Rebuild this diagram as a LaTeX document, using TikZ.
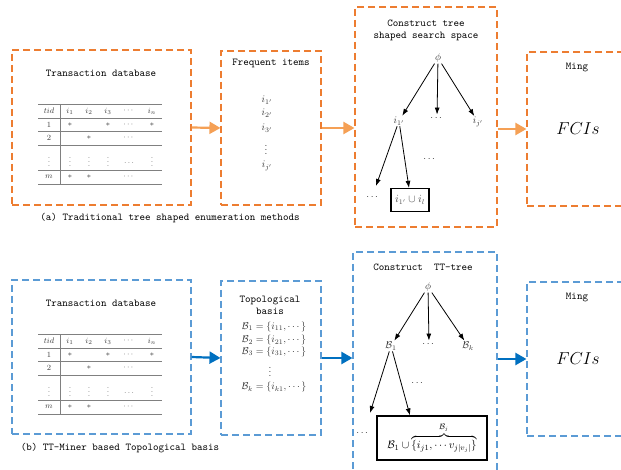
\documentclass[tikz,border=0pt]{standalone}
\usepackage{amsmath}
\usepackage{amsfonts}
\usetikzlibrary{arrows.meta}
\definecolor{dashorange}{RGB}{237,125,49}
\definecolor{floworange}{RGB}{245,160,85}
\definecolor{dashblue}{RGB}{91,155,213}
\definecolor{flowblue}{RGB}{0,112,192}

\tikzset{
    ttlabel/.style={font=\fontsize{10.5}{12}\selectfont\ttfamily},
    mathlabel/.style={font=\fontsize{10}{11}\selectfont, text=black!80, inner sep=1pt},
    cell/.style={font=\fontsize{8.5}{9}\selectfont, text=black!75, inner sep=0pt},
    stagebox/.style={draw, dash pattern=on 7pt off 4pt, line width=1.1pt, inner sep=0pt},
    flow/.style={line width=2.2pt, -{Triangle[length=11pt,width=12pt]}},
    treearrow/.style={-{Latex[length=7pt,width=5pt]}, line width=0.8pt},
    rule/.style={gray, line width=0.6pt},
}

\begin{document}
\begin{tikzpicture}[x=1pt, y=-1pt]
    \clip (0,0) rectangle (621,470);
    \fill[white] (0,0) rectangle (621,470);

    % stage boxes, top row (a)
    \node[stagebox, draw=dashorange, minimum width=179pt, minimum height=155pt] (dbA) at (101.5,127.5) {};
    \node[stagebox, draw=dashorange, minimum width=100pt, minimum height=154pt] (freqA) at (271,128) {};
    \node[stagebox, draw=dashorange, minimum width=142pt, minimum height=220pt] (treeA) at (426,117) {};
    \node[stagebox, draw=dashorange, minimum width=120pt, minimum height=154pt] (mingA) at (587,129) {};

    % stage boxes, bottom row (b)
    \node[stagebox, draw=dashblue, minimum width=179pt, minimum height=154pt] (dbB) at (101.5,357) {};
    \node[stagebox, draw=dashblue, minimum width=100pt, minimum height=154pt] (topoB) at (271,358) {};
    \node[stagebox, draw=dashblue, minimum width=144pt, minimum height=228pt] (treeB) at (425,366) {};
    \node[stagebox, draw=dashblue, minimum width=120pt, minimum height=154pt] (mingB) at (587,359) {};

    % transaction database, same in both rows
    \foreach \dy/\r in {0/A,230/B} {
    \begin{scope}[shift={(0,\dy)}]
        \node[ttlabel] (dbtitle\r) at (101,73) {Transaction database};
        \draw[rule, line width=0.8pt] (38,104) -- (162,104);
        \foreach \ry in {118,131,145,170,184}
            \draw[rule] (38,\ry) -- (162,\ry);
        \draw[rule] (60,104) -- (60,184);
        \foreach \cx/\txt in {49/tid,70/i_1,89/i_2,108/i_3,129/\cdots,152/i_n}
            \node[cell] (hd\r\cx) at (\cx,111) {$\txt$};
        \foreach \cx/\txt in {49/1,70/*,108/*,129/\cdots,152/*}
            \node[cell] (ra\r\cx) at (\cx,124.5) {$\txt$};
        \foreach \cx/\txt in {49/2,89/*,129/\cdots}
            \node[cell] (rb\r\cx) at (\cx,138) {$\txt$};
        \foreach \cx in {49,70,89,108,152}
            \node[cell] (rv\r\cx) at (\cx,159) {$\vdots$};
        \node[cell] (rd\r) at (129,163) {$\ldots$};
        \foreach \cx/\txt in {49/m,70/*,89/*,129/\cdots}
            \node[cell] (rm\r\cx) at (\cx,177) {$\txt$};
    \end{scope}
    }

    % frequent items
    \node[ttlabel] (freqtitle) at (271,63) {Frequent items};
    \node[mathlabel] (fi1) at (267,100) {$i_{1'}$};
    \node[mathlabel] (fi2) at (267,113) {$i_{2'}$};
    \node[mathlabel] (fi3) at (267,128) {$i_{3'}$};
    \node[mathlabel] (fiv) at (266,147) {$\vdots$};
    \node[mathlabel] (fij) at (267,166) {$i_{j'}$};

    % tree shaped search space
    \node[ttlabel, align=center] (treetitleA) at (426,30) {Construct tree\\shaped search space};
    \node[mathlabel] (phiA) at (438,58) {$\phi$};
    \node[mathlabel] (ioneA) at (399,121) {$i_{1'}$};
    \node[mathlabel] (midA) at (437,118) {$\cdots$};
    \node[mathlabel] (ijA) at (478,122) {$i_{j'}$};
    \node[mathlabel] (dotsA) at (430,159) {$\cdots$};
    \node[mathlabel] (leftA) at (373,197) {$\cdots$};
    \coordinate (leftendA) at (376,186);
    \node[draw, line width=1.2pt, minimum width=38pt, minimum height=23pt, inner sep=1pt,
          font=\fontsize{10.5}{12}\selectfont, text=black!70] (unionA) at (410,200) {$i_{1'}\cup i_l$};
    \draw[treearrow] (phiA) -- (ioneA);
    \draw[treearrow] (phiA) -- (midA);
    \draw[treearrow] (phiA) -- (ijA);
    \draw[treearrow] (ioneA) -- (leftendA);
    \draw[treearrow] (ioneA) -- ([xshift=-1pt]unionA.north);

    % topological basis
    \node[ttlabel, align=center] (topotitle) at (270,305) {Topological\\basis};
    \node[mathlabel] (tb1) at (274,327) {$\mathcal{B}_1=\{i_{11},\cdots\}$};
    \node[mathlabel] (tb2) at (274,340) {$\mathcal{B}_2=\{i_{21},\cdots\}$};
    \node[mathlabel] (tb3) at (274,352) {$\mathcal{B}_3=\{i_{31},\cdots\}$};
    \node[mathlabel] (tbv) at (270,369) {$\vdots$};
    \node[mathlabel] (tbk) at (274,387) {$\mathcal{B}_k=\{i_{k1},\cdots\}$};

    % TT-tree
    \node[ttlabel] (treetitleB) at (423,267) {Construct\ \ TT-tree};
    \node[mathlabel] (phiB) at (428,287) {$\phi$};
    \node[mathlabel] (boneB) at (391,346) {$\mathcal{B}_1$};
    \node[mathlabel] (midB) at (429,344) {$\cdots$};
    \node[mathlabel] (bkB) at (468,346) {$\mathcal{B}_k$};
    \node[mathlabel] (dotsB) at (418,383) {$\cdots$};
    \node[mathlabel] (leftB) at (363,433) {$\cdots$};
    \coordinate (leftendB) at (370,413);
    \node[draw, line width=1.2pt, minimum width=110pt, minimum height=44pt, inner sep=1pt,
          font=\fontsize{11}{12}\selectfont] (unionB) at (432,438)
          {$\mathcal{B}_1\cup\overbrace{\{i_{j1},\cdots v_{j|v_j|}\}}^{\mathcal{B}_j}$};
    \draw[treearrow] (phiB) -- (boneB);
    \draw[treearrow] (phiB) -- (midB);
    \draw[treearrow] (phiB) -- (bkB);
    \draw[treearrow] (boneB) -- (leftendB);
    \draw[treearrow] (boneB) -- ([xshift=-22pt]unionB.north);

    % Ming
    \node[ttlabel] (mingtitleA) at (577,67) {Ming};
    \node[font=\fontsize{17}{20}\selectfont] (fcisA) at (578,129) {$FCIs$};
    \node[ttlabel] (mingtitleB) at (577,297) {Ming};
    \node[font=\fontsize{17}{20}\selectfont] (fcisB) at (578,359) {$FCIs$};

    % flow arrows
    \draw[flow, floworange] (dbA.east) -- (freqA.west);
    \draw[flow, floworange] (freqA.east) -- (freqA.east -| treeA.west);
    \draw[flow, floworange] (mingA.west -| treeA.east) -- (mingA.west);
    \draw[flow, flowblue] (dbB.east) -- (topoB.west);
    \draw[flow, flowblue] (topoB.east) -- (topoB.east -| treeB.west);
    \draw[flow, flowblue] (mingB.west -| treeB.east) -- (mingB.west);

    % captions
    \node[ttlabel] (captA) at (170,218) {(a) Traditional tree shaped enumeration methods};
    \node[ttlabel] (captB) at (120,448) {(b) TT-Miner based Topological basis};
\end{tikzpicture}
\end{document}
